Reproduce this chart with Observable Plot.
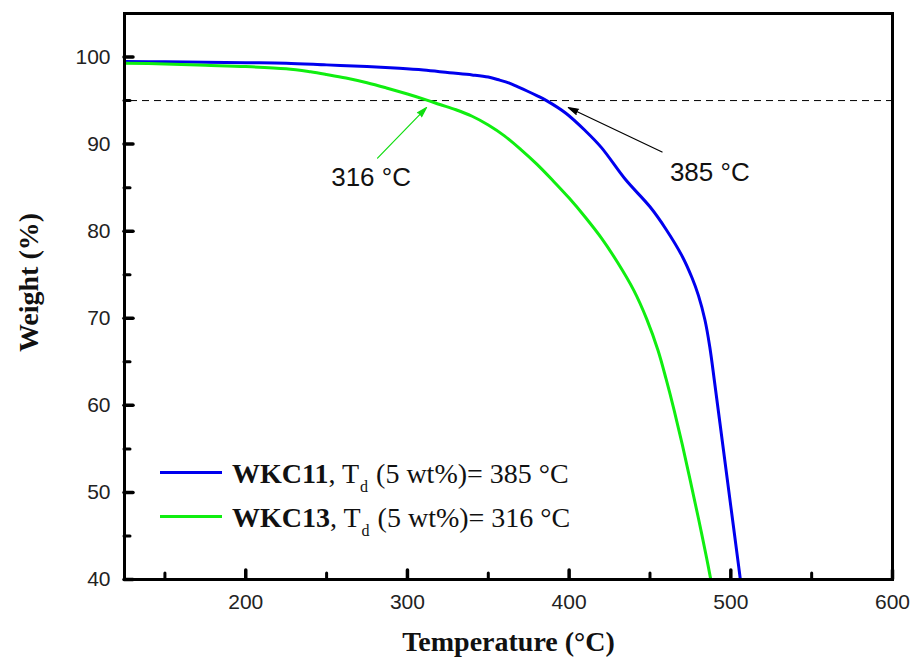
<!DOCTYPE html>
<html>
<head>
<meta charset="utf-8">
<script src="https://cdn.jsdelivr.net/npm/d3@7"></script>
<script src="https://cdn.jsdelivr.net/npm/@observablehq/plot@0.6"></script>
<style>
  html, body { margin: 0; padding: 0; background: #fff; }
  #wrap { position: relative; width: 914px; height: 663px; }
  .leg { position: absolute; left: 160px; font-family: "Liberation Serif", "Times New Roman", serif; font-size: 28px; line-height: 32px; color: #111; white-space: nowrap; }
  .leg .sw { display: inline-block; width: 62px; height: 0; border-top: 3px solid; vertical-align: middle; margin-right: 10px; position: relative; top: -4px; }
  .leg sub { font-size: 16px; position: relative; top: 9px; vertical-align: baseline; margin: 0 1px; }
</style>
</head>
<body>
<div id="wrap"></div>
<script>
// ---- data ----
const tempWKC11 = [125, 150, 175, 200, 225, 250, 275, 295, 310, 326, 340, 350, 357, 363, 368, 374, 380, 386, 398, 410, 420, 435, 450, 460, 470, 476, 480, 484, 487, 490, 495, 500, 505, 505.9];
const wtWKC11   = [99.5, 99.45, 99.4, 99.35, 99.3, 99.1, 98.9, 98.7, 98.5, 98.2, 97.95, 97.7, 97.35, 97.0, 96.6, 96.1, 95.57, 95.0, 93.55, 91.54, 89.6, 85.9, 82.8, 80.2, 77.1, 74.65, 72.6, 69.8, 66.7, 62.6, 55.5, 48.4, 41.3, 40.0];
const tempWKC13 = [125, 150, 175, 200, 225, 240, 250, 262, 275, 287, 300, 312, 320, 330, 340, 350, 360, 370, 380, 390, 400, 410, 420, 430, 440, 448, 455, 460, 465, 470, 475, 480, 485, 487.6];
const wtWKC13   = [99.3, 99.2, 99.05, 98.9, 98.65, 98.3, 98.0, 97.6, 97.05, 96.45, 95.75, 95.05, 94.55, 93.95, 93.2, 92.2, 90.95, 89.4, 87.7, 85.8, 83.8, 81.6, 79.2, 76.4, 73.2, 69.9, 66.3, 63.0, 59.4, 55.5, 51.3, 47.0, 42.5, 40.0];
const seriesNames = ["WKC11", "WKC13"];
const seriesColors = ["#0000ee", "#10ee10"];
const tdValues = [385, 316];

const xMajor = [200, 300, 400, 500, 600];
const xMinor = [150, 250, 350, 450, 550];
const yMajor = [40, 50, 60, 70, 80, 90, 100];
const yMinor = [45, 55, 65, 75, 85, 95];
const thresholdWt = 95;

const annotLabels = ["316 °C", "385 °C"];
const annotTextX = [277.5, 487];
const annotTextY = [86.2, 86.7];
const arrowFromX = [281.5, 457.5];
const arrowFromY = [88.4, 89.1];
const arrowToX = [311.8, 399.5];
const arrowToY = [94.2, 94.2];
const annotColors = ["#10dd10", "#000"];

// ---- build ----
const rows = [];
tempWKC11.forEach((t, i) => rows.push({series: seriesNames[0], t, w: wtWKC11[i]}));
tempWKC13.forEach((t, i) => rows.push({series: seriesNames[1], t, w: wtWKC13[i]}));
const annots = annotLabels.map((label, i) => ({
  label, tx: annotTextX[i], ty: annotTextY[i],
  x1: arrowFromX[i], y1: arrowFromY[i], x2: arrowToX[i], y2: arrowToY[i], c: annotColors[i]
}));

const W = 914, H = 663, mL = 124, mR = 22, mT = 13, mB = 84;
const fw = W - mL - mR, fh = H - mT - mB;
const serif = "Liberation Serif, Times New Roman, serif";

const chart = Plot.plot({
  width: W, height: H,
  marginLeft: mL, marginRight: mR, marginTop: mT, marginBottom: mB,
  style: {fontFamily: "Liberation Sans, Arial, sans-serif", fontSize: "21px", color: "#222", background: "#fff"},
  x: {domain: [125, 600], nice: false},
  y: {domain: [40, 105], nice: false},
  color: {domain: seriesNames, range: seriesColors},
  marks: [
    Plot.ruleY([thresholdWt], {stroke: "#000", strokeWidth: 1, strokeDasharray: "7,5", insetLeft: 6}),
    Plot.line(rows, {x: "t", y: "w", z: "series", stroke: "series", strokeWidth: 3, curve: "catmull-rom", clip: true}),
    Plot.arrow(annots, {x1: "x1", y1: "y1", x2: "x2", y2: "y2", stroke: "c", fill: "c", strokeWidth: 1.2, headLength: 13, headAngle: 32}),
    Plot.text(annots, {x: "tx", y: "ty", text: "label", fontSize: 26, fill: "#111", fontFamily: "Liberation Sans, Arial, sans-serif"}),
    // axes labels
    Plot.axisX(xMajor, {tickSize: 0, tickPadding: 15, fontSize: 21, fill: "#222", label: null}),
    Plot.axisY(yMajor, {tickSize: 0, tickPadding: 14, fontSize: 21, fill: "#222", label: null}),
    // inward ticks
    Plot.tickX(xMajor, {x: d => d, insetTop: fh - 9, strokeWidth: 3.5, stroke: "#000", strokeLinecap: "round"}),
    Plot.tickX(xMinor, {x: d => d, insetTop: fh - 6, strokeWidth: 3, stroke: "#000", strokeLinecap: "round"}),
    Plot.tickY(yMajor, {y: d => d, insetRight: fw - 9, strokeWidth: 3.5, stroke: "#000", strokeLinecap: "round"}),
    Plot.tickY(yMinor, {y: d => d, insetRight: fw - 6, strokeWidth: 3, stroke: "#000", strokeLinecap: "round"}),
    Plot.frame({stroke: "#000", strokeWidth: 3}),
    // titles
    Plot.text(["Temperature (°C)"], {frameAnchor: "bottom", dy: 71, fontSize: 28, fontWeight: "bold", fontFamily: serif, fill: "#111", lineAnchor: "bottom"}),
    Plot.text(["Weight (%)"], {frameAnchor: "left", textAnchor: "middle", dx: -95, dy: -14, rotate: -90, fontSize: 28, fontWeight: "bold", fontFamily: serif, fill: "#111"})
  ]
});
const wrap = document.getElementById("wrap");
wrap.appendChild(chart);

// legend (inside plot area)
seriesNames.forEach((name, i) => {
  const div = document.createElement("div");
  div.className = "leg";
  div.style.top = (458 + i * 44) + "px";
  div.innerHTML = `<span class="sw" style="border-color:${seriesColors[i]}"></span><b>${name}</b>, T<sub>d</sub> (5 wt%)= ${tdValues[i]} °C`;
  wrap.appendChild(div);
});
</script>
</body>
</html>
